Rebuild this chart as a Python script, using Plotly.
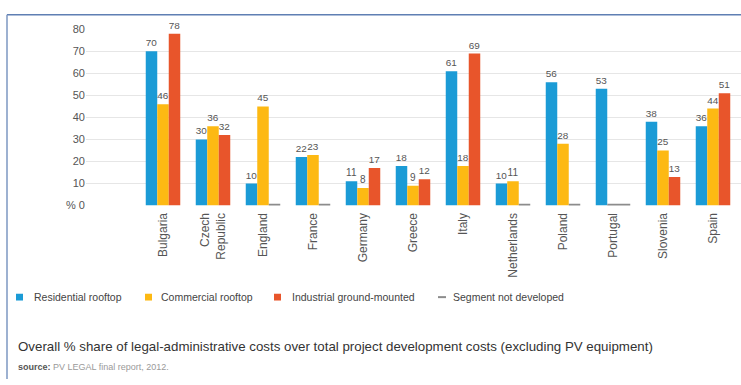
import plotly.graph_objects as go

# ---------------- data ----------------
categories = ["Bulgaria", "Czech<br>Republic", "England", "France", "Germany", "Greece",
              "Italy", "Netherlands", "Poland", "Portugal", "Slovenia", "Spain"]
residential = [70, 30, 10, 22, 11, 18, 61, 10, 56, 53, 38, 36]
commercial = [46, 36, 45, 23, 8, 9, 18, 11, 28, None, 25, 44]
industrial = [78, 32, None, None, 17, 12, 69, None, None, None, 13, 51]
# segments not developed: (category, first slot index, number of slots)
not_developed = [("England", 2, 1), ("France", 2, 1), ("Netherlands", 2, 1),
                 ("Poland", 2, 1), ("Portugal", 1, 2)]
y_ticks = [0, 10, 20, 30, 40, 50, 60, 70, 80]
y_ticktext = ["% 0", "10", "20", "30", "40", "50", "60", "70", "80"]
legend_labels = ["Residential rooftop", "Commercial rooftop",
                 "Industrial ground-mounted", "Segment not developed"]
title_text = "Overall % share of legal-administrative costs over total project development costs (excluding PV equipment)"
source_text = "<b>source:</b> <span style='color:#9a9a9a'>PV LEGAL final report, 2012.</span>"

# ---------------- style ----------------
W, H = 741, 385
BLUE, YELLOW, ORANGE, GREY = "#1b9bd6", "#fdb913", "#e8552b", "#8c8c8c"
FONT = "Liberation Sans, Arial, Helvetica, sans-serif"
SLOT = 0.23


def px(x):
    return x / W


def py(y):
    return 1 - y / H


fig = go.Figure()
series = [(residential, BLUE, legend_labels[0]),
          (commercial, YELLOW, legend_labels[1]),
          (industrial, ORANGE, legend_labels[2])]
for i, (vals, col, name) in enumerate(series):
    fig.add_trace(go.Bar(
        x=categories, y=vals, name=name, marker_color=col, marker_line_width=0,
        offset=-1.5 * SLOT + i * SLOT, width=SLOT,
        text=["" if v is None else str(v) for v in vals],
        textposition="outside", cliponaxis=False,
        textfont=dict(size=10, color="#555555", family=FONT),
        showlegend=False,
    ))

cat_lookup = {c.replace("<br>", " "): c for c in categories}
nd_x = [cat_lookup[c] for c, _, _ in not_developed]
nd_off = [-1.5 * SLOT + s * SLOT for _, s, _ in not_developed]
nd_w = [n * SLOT for _, _, n in not_developed]
fig.add_trace(go.Bar(
    x=nd_x, y=[0.8] * len(nd_x), offset=nd_off, width=nd_w,
    marker_color=GREY, marker_line_width=0, showlegend=False, hoverinfo="skip",
    name=legend_labels[3],
))

fig.update_layout(
    width=W, height=H, margin=dict(l=0, r=0, t=0, b=0),
    paper_bgcolor="white", plot_bgcolor="white",
    barmode="overlay", showlegend=False,
    font=dict(family=FONT, color="#555555"),
    xaxis=dict(domain=[px(86), 1], type="category", range=[-1.54, 11.56],
               tickangle=-90, showgrid=False, zeroline=False, showline=False,
               ticks="", tickfont=dict(size=12, color="#555555"),
               ticklabelstandoff=4),
    yaxis=dict(domain=[py(206), py(24)], range=[0, 80], tickvals=y_ticks,
               ticktext=y_ticktext, showgrid=True, gridcolor="#e6e6e6",
               gridwidth=1, zeroline=False, showline=False, ticks="",
               tickfont=dict(size=11, color="#555555")),
)

# border (top + left)
fig.add_shape(type="line", xref="paper", yref="paper", x0=px(7), x1=1,
              y0=py(9), y1=py(9), line=dict(color="#5f7fb3", width=1.5))
fig.add_shape(type="line", xref="paper", yref="paper", x0=px(7), x1=px(7),
              y0=0, y1=py(9), line=dict(color="#7d97c2", width=1.5))

# manual legend
legend_sq = [(16, BLUE), (145, YELLOW), (274, ORANGE)]
for x0, col in legend_sq:
    fig.add_shape(type="rect", xref="paper", yref="paper", x0=px(x0), x1=px(x0 + 7),
                  y0=py(304), y1=py(297), fillcolor=col, line_width=0)
fig.add_shape(type="line", xref="paper", yref="paper", x0=px(438), x1=px(446),
              y0=py(300.5), y1=py(300.5), line=dict(color=GREY, width=2))
for x0, lab in zip([32, 159, 290, 451], legend_labels):
    fig.add_annotation(xref="paper", yref="paper", x=px(x0), y=py(300.5),
                       xanchor="left", yanchor="middle", text=lab, showarrow=False,
                       font=dict(size=10.5, color="#444444", family=FONT))

fig.add_annotation(xref="paper", yref="paper", x=px(16), y=py(351),
                   xanchor="left", yanchor="middle", text=title_text, showarrow=False,
                   font=dict(size=13.3, color="#333333", family=FONT))
fig.add_annotation(xref="paper", yref="paper", x=px(16), y=py(373),
                   xanchor="left", yanchor="middle", text=source_text, showarrow=False,
                   font=dict(size=9, color="#555555", family=FONT))

fig.write_html("out.html")
